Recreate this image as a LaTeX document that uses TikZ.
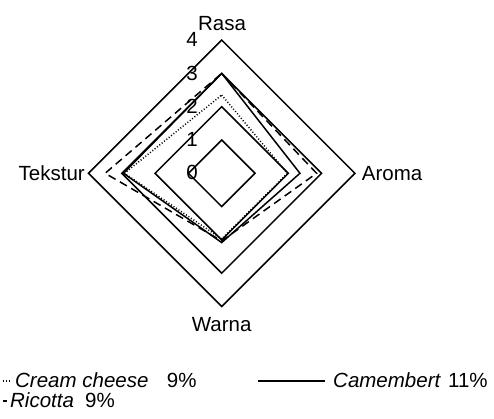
\documentclass[tikz,border=0pt]{standalone}
\usepackage{fontspec}
\setmainfont{Liberation Sans}

\newcommand{\Unit}{33.3}
\newcommand{\Lw}{1.5pt}

\tikzset{
  gridline/.style={line width=\Lw},
  creamline/.style={line width=\Lw, dash pattern=on 1pt off 2pt},
  camline/.style={line width=\Lw},
  ricline/.style={line width=\Lw, dash pattern=on 8pt off 5pt},
  lbl/.style={inner sep=0pt, font=\fontsize{20.5}{24}\selectfont},
}

\begin{document}
\begin{tikzpicture}[x=1pt,y=1pt]
        \useasboundingbox (-221.7,-245.7) rectangle (272.3,173.3);

        \coordinate (O) at (0,0);

        \draw[gridline] (90:\Unit) -- (0:\Unit) -- (270:\Unit) -- (180:\Unit) -- cycle;% Level 1
        \draw[gridline] (90:2*\Unit) -- (0:2*\Unit) -- (270:2*\Unit) -- (180:2*\Unit) -- cycle;% Level 2
        \draw[gridline] (90:3*\Unit) -- (0:3*\Unit) -- (270:3*\Unit) -- (180:3*\Unit) -- cycle;% Level 3
        \draw[gridline] (90:4*\Unit) -- (0:4*\Unit) -- (270:4*\Unit) -- (180:4*\Unit) -- cycle;% Level 4

        \node[lbl, anchor=base] (n0) at (-29.7,-6.7) {0};
        \node[lbl, anchor=base] (n1) at (-29.7,1*\Unit-6.7) {1};
        \node[lbl, anchor=base] (n2) at (-29.7,2*\Unit-6.7) {2};
        \node[lbl, anchor=base] (n3) at (-29.7,3*\Unit-6.7) {3};
        \node[lbl, anchor=base] (n4) at (-29.7,4*\Unit-6.7) {4};

        \node[lbl, anchor=base] (rasa) at (0.3,142.8) {Rasa};
        \node[lbl, anchor=base west] (aroma) at (140,-7) {Aroma};
        \node[lbl, anchor=base] (warna) at (0,-158.2) {Warna};
        \node[lbl, anchor=base east] (tekstur) at (-136.7,-7.2) {Tekstur};

        % Cream cheese
        \coordinate (CR) at (90:2.35*\Unit);
        \coordinate (CA) at (0:1.97*\Unit);
        \coordinate (CW) at (270:1.97*\Unit);
        \coordinate (CT) at (180:2.92*\Unit);
        \draw[creamline] (CR) -- (CA) -- (CW) -- (CT) -- cycle;

        % Camembert
        \coordinate (MR) at (90:3*\Unit);
        \coordinate (MA) at (0:2.35*\Unit);
        \coordinate (MW) at (270:2.08*\Unit);
        \coordinate (MT) at (180:2.95*\Unit);
        \draw[camline] (MR) -- (MA) -- (MW) -- (MT) -- cycle;

        % Ricotta
        \coordinate (RR) at (90:3*\Unit);
        \coordinate (RA) at (0:2.85*\Unit);
        \coordinate (RW) at (270:2.03*\Unit);
        \coordinate (RT) at (180:3.5*\Unit);
        \draw[ricline] (RR) -- (RA) -- (RW) -- (RT) -- cycle;

        % legend
        \coordinate (creamA) at (-218.7,-207.7);
        \coordinate (creamB) at (-211.7,-207.7);
        \draw[creamline] (creamA) -- (creamB);
        \node[lbl, anchor=base west] (cream) at (-206.7,-213.7) {\itshape Cream cheese};
        \node[lbl, anchor=base west] (creampct) at (-55,-213.7) {9\%};

        \coordinate (camA) at (36.6,-207.7);
        \coordinate (camB) at (103.3,-207.7);
        \draw[camline] (camA) -- (camB);
        \node[lbl, anchor=base west] (cam) at (111.3,-213.7) {\itshape Camembert};
        \node[lbl, anchor=base west] (campct) at (226.3,-213.7) {11\%};

        \coordinate (ricA) at (-218.4,-227.7);
        \coordinate (ricB) at (-215,-227.7);
        \draw[ricline] (ricA) -- (ricB);
        \node[lbl, anchor=base west] (ric) at (-211.7,-233.7) {\itshape Ricotta};
        \node[lbl, anchor=base west] (ricpct) at (-136.7,-233.7) {9\%};
    \end{tikzpicture}
\end{document}
